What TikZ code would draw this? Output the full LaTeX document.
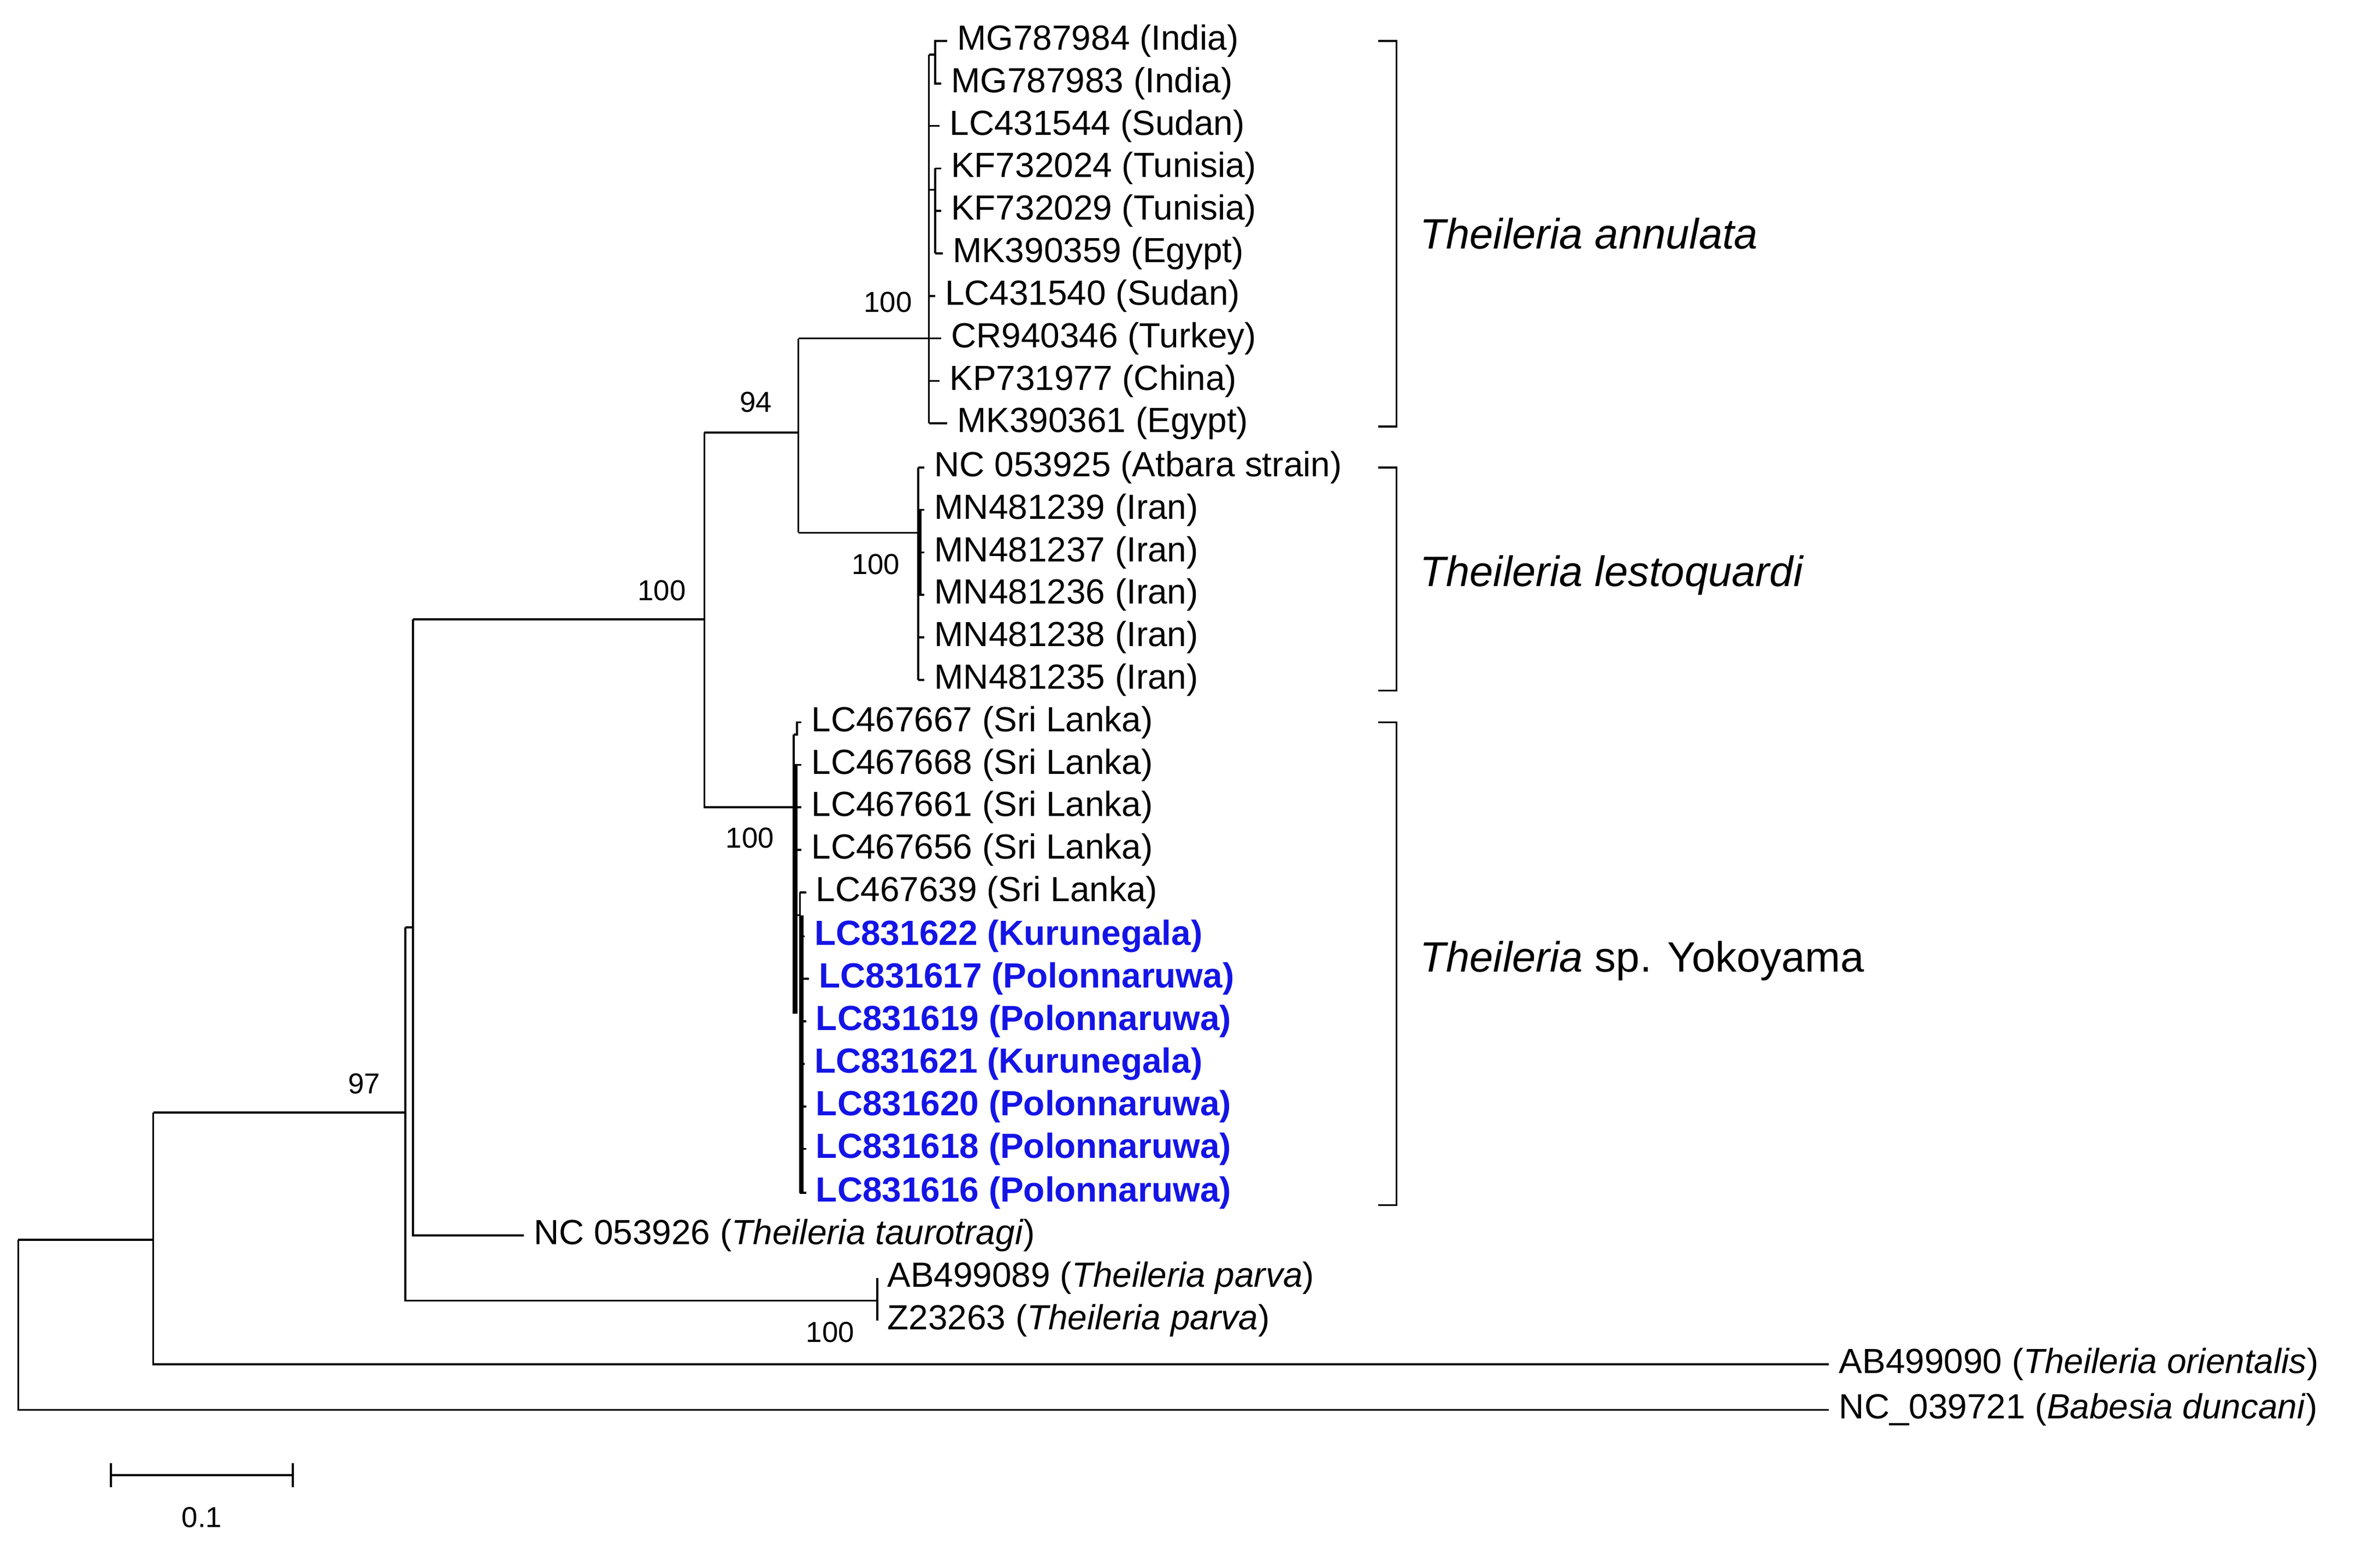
\documentclass[tikz,border=0pt]{standalone}
\usepackage{fontspec}
\setmainfont{Liberation Sans}
\begin{document}
\begin{tikzpicture}[x=1pt,y=-1pt,line width=1.3pt,
  leaf/.style={anchor=west,inner sep=0pt,font=\fontsize{23}{26}\selectfont},
  bleaf/.style={leaf,text={rgb,255:red,20;green,20;blue,230},font=\fontsize{23}{26}\selectfont\bfseries},
  boot/.style={font=\fontsize{19}{22}\selectfont,inner sep=0pt},
  sp/.style={anchor=west,inner sep=0pt,font=\fontsize{28}{32}\selectfont}]
\useasboundingbox (0,0) rectangle (1568,1021);
\newcommand{\lf}[5][leaf]{\coordinate (#2) at (#3,#4); \node[#1] (t#2) at (#3+6,#4) {#5};}
% annulata
\lf{a1}{624}{27}{MG787984 (India)}
\lf{a2}{620}{55}{MG787983 (India)}
\lf{a3}{619}{83}{LC431544 (Sudan)}
\lf{a4}{620}{111}{KF732024 (Tunisia)}
\lf{a5}{620}{139}{KF732029 (Tunisia)}
\lf{a6}{621}{167}{MK390359 (Egypt)}
\lf{a7}{616}{195}{LC431540 (Sudan)}
\lf{a8}{620}{223}{CR940346 (Turkey)}
\lf{a9}{619}{251}{KP731977 (China)}
\lf{a10}{624}{279}{MK390361 (Egypt)}
\draw (612,36)--(612,279);
\draw (612,36)--(616,36)--(616,27)--(a1);
\draw (616,36)--(616,55)--(a2);
\draw (612,83)--(a3);
\draw (612,125)--(616,125); \draw (616,111)--(616,167);
\draw (616,111)--(a4); \draw (616,139)--(a5); \draw (616,167)--(a6);
\draw (612,195)--(a7); \draw (612,223)--(a8); \draw (612,251)--(a9);
\draw (612,279)--(a10);
% lestoquardi
\lf{l1}{609}{308}{NC 053925 (Atbara strain)}
\lf{l2}{609}{336}{MN481239 (Iran)}
\lf{l3}{609}{364}{MN481237 (Iran)}
\lf{l4}{609}{392}{MN481236 (Iran)}
\lf{l5}{609}{420}{MN481238 (Iran)}
\lf{l6}{609}{448}{MN481235 (Iran)}
\draw (605,308)--(605,448);
\foreach \n/\y in {l1/308,l2/336,l3/364,l4/392,l5/420,l6/448} \draw (605,\y)--(\n);
\draw[line width=2.5pt] (606,336)--(606,392);
% yokoyama
\lf{y1}{528}{476}{LC467667 (Sri Lanka)}
\lf{y2}{528}{504}{LC467668 (Sri Lanka)}
\lf{y3}{528}{532}{LC467661 (Sri Lanka)}
\lf{y4}{528}{560}{LC467656 (Sri Lanka)}
\lf{y5}{531}{588}{LC467639 (Sri Lanka)}
\lf[bleaf]{y6}{530}{617}{LC831622 (Kurunegala)}
\lf[bleaf]{y7}{533}{645}{LC831617 (Polonnaruwa)}
\lf[bleaf]{y8}{531}{673}{LC831619 (Polonnaruwa)}
\lf[bleaf]{y9}{530}{701}{LC831621 (Kurunegala)}
\lf[bleaf]{y10}{531}{729}{LC831620 (Polonnaruwa)}
\lf[bleaf]{y11}{531}{757}{LC831618 (Polonnaruwa)}
\lf[bleaf]{y12}{531}{786}{LC831616 (Polonnaruwa)}
\draw (523,484)--(523,668);
\draw (523,484)--(525,484)--(525,476)--(y1);
\foreach \n/\y in {y2/504,y3/532,y4/560} \draw (523,\y)--(\n);
\draw (523,603)--(527,603); \draw (527,588)--(527,786);
\foreach \n/\y in {y5/588,y6/617,y7/645,y8/673,y9/701,y10/729,y11/757,y12/786} \draw (527,\y)--(\n);
\draw[line width=2.5pt] (524,504)--(524,668);
\draw[line width=2.5pt] (528,603)--(528,786);
% others
\lf{tt}{345}{814}{NC 053926 (\textit{Theileria taurotragi})}
\lf{p1}{578}{842}{AB499089 (\textit{Theileria parva})}
\lf{p2}{578}{870}{Z23263 (\textit{Theileria parva})}
\lf{or}{1205}{899}{AB499090 (\textit{Theileria orientalis})}
\lf{bd}{1205}{929}{NC\_039721 (\textit{Babesia duncani})}
% internal
\draw (526,223)--(612,223);
\draw (526,223)--(526,351);
\draw (526,351)--(605,351);
\draw (464,285)--(526,285);
\draw (464,285)--(464,532)--(523,532);
\draw (272,408)--(464,408);
\draw (272,408)--(272,814)--(tt);
\draw (267,611)--(272,611);
\draw (267,611)--(267,857)--(578,857);
\draw (578,842)--(578,870); \draw (578,842)--(p1); \draw (578,870)--(p2);
\draw (101,733)--(267,733);
\draw (101,733)--(101,899)--(or);
\draw (12,817)--(101,817);
\draw (12,817)--(12,929)--(bd);
% bootstrap
\node[boot] at (585,199) {100};
\node[boot] at (498,265) {94};
\node[boot] at (436,389) {100};
\node[boot] at (577,372) {100};
\node[boot] at (494,552) {100};
\node[boot] at (240,714) {97};
\node[boot] at (547,878) {100};
% brackets
\draw (908,27)--(920,27)--(920,281)--(908,281);
\draw (908,308)--(920,308)--(920,455)--(908,455);
\draw (908,476)--(920,476)--(920,794)--(908,794);
\node[sp] at (935,154) {\textit{Theileria annulata}};
\node[sp] at (935,379) {\textit{Theileria lestoquardi}};
\node[sp] at (935,633) {\textit{Theileria} sp. Yokoyama};
% scale
\draw (73,972)--(193,972); \draw (73,964)--(73,980); \draw (193,964)--(193,980);
\node[boot] at (133,1000) {0.1};
\end{tikzpicture}
\end{document}
